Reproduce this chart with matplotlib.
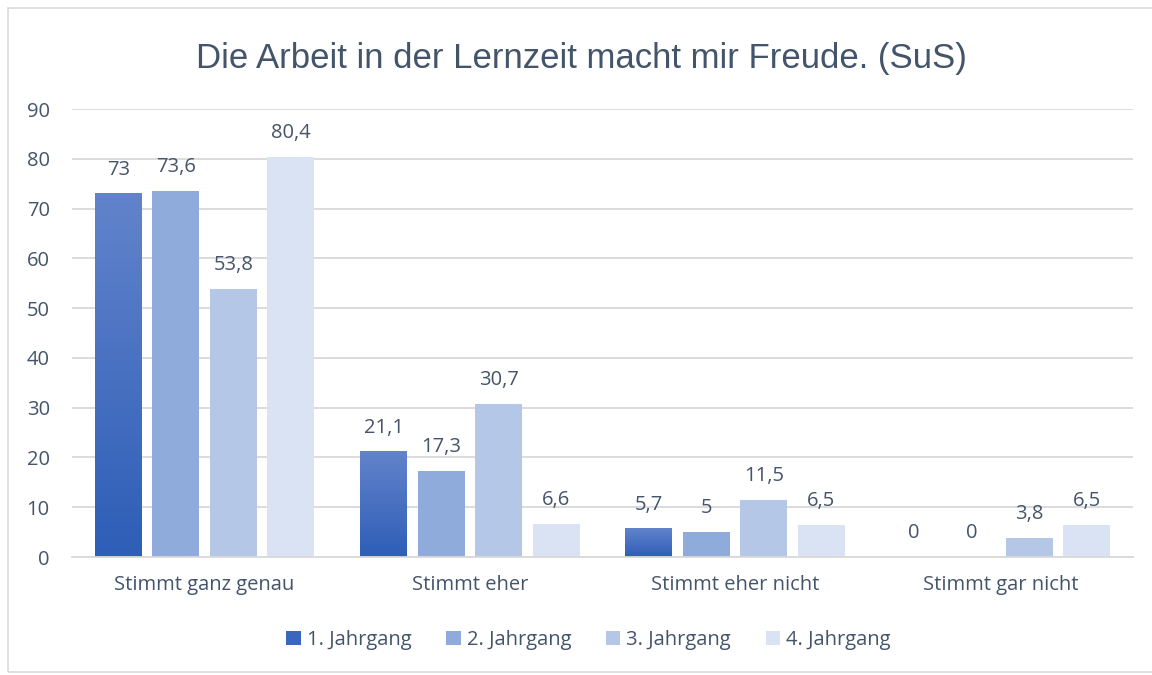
import numpy as np
import matplotlib.pyplot as plt
from matplotlib.colors import LinearSegmentedColormap
from matplotlib.patches import Rectangle, Patch

# Survey answers (percent) per school year
categories = ["Stimmt ganz genau", "Stimmt eher", "Stimmt eher nicht", "Stimmt gar nicht"]
series_names = ["1. Jahrgang", "2. Jahrgang", "3. Jahrgang", "4. Jahrgang"]
jahrgang1 = [73, 21.1, 5.7, 0]
jahrgang2 = [73.6, 17.3, 5, 0]
jahrgang3 = [53.8, 30.7, 11.5, 3.8]
jahrgang4 = [80.4, 6.6, 6.5, 6.5]
values = [jahrgang1, jahrgang2, jahrgang3, jahrgang4]

colors = ["#3A66BE", "#8FABDC", "#B4C7E7", "#DAE3F3"]
text_color = "#44546A"
font = "Open Sans"

fig = plt.figure(figsize=(11.52, 6.75), dpi=100)
fig.patches.append(Rectangle((8 / 1152, 0.004), 1.0, 1 - 8 / 675 - 0.004,
                             transform=fig.transFigure, fill=False,
                             edgecolor="#D9D9D9", linewidth=1.2))
ax = fig.add_axes([0.0625, 0.1748, 0.921, 0.6637])

x = np.arange(len(categories))
width = 0.177
step = 0.217
grad = LinearSegmentedColormap.from_list("g", ["#2E5EB7", "#6283CB"])

for i, vals in enumerate(values):
    pos = x + (i - 1.5) * step
    bars = ax.bar(pos, vals, width, color=colors[i], zorder=2)
    if i == 0:
        # first series has a vertical gradient fill
        for b in bars:
            h = b.get_height()
            if h > 0:
                b.set_facecolor("none")
                ax.imshow(np.linspace(0, 1, 100).reshape(-1, 1), cmap=grad,
                          origin="lower", aspect="auto", zorder=2,
                          extent=[b.get_x(), b.get_x() + b.get_width(), 0, h])
    for p, v in zip(pos, vals):
        lbl = f"{v:g}".replace(".", ",")
        ax.annotate(lbl, (p, v), xytext=(0, 13.5), textcoords="offset points",
                    ha="center", va="baseline", fontsize=14.5, color=text_color,
                    family=font)

ax.set_xlim(-0.5, 3.5)
ax.set_ylim(0, 90)
ax.set_yticks(range(0, 91, 10))
ax.set_xticks(x)
ax.set_xticklabels(categories)
ax.grid(axis="y", color="#D9D9D9", linewidth=1.3, zorder=0)
ax.set_axisbelow(True)
for s in ["top", "right", "left"]:
    ax.spines[s].set_visible(False)
ax.spines["bottom"].set_color("#D9D9D9")
ax.spines["bottom"].set_linewidth(1.3)
ax.tick_params(length=0, labelsize=14.5, labelcolor=text_color, pad=13)
ax.tick_params(axis="y", pad=16)
for t in ax.get_xticklabels() + ax.get_yticklabels():
    t.set_family(font)

fig.text(0.505, 0.914, "Die Arbeit in der Lernzeit macht mir Freude. (SuS)",
         ha="center", va="center", fontsize=25, color=text_color,
         family="Liberation Sans")

handles = [Patch(facecolor=c) for c in colors]
leg = fig.legend(handles, series_names, loc="center", bbox_to_anchor=(0.511, 0.052),
                 ncol=4, frameon=False, prop={"family": font, "size": 14.5},
                 handlelength=0.7, handleheight=0.7, handletextpad=0.3,
                 columnspacing=1.75, labelcolor=text_color)

fig.savefig("out.png", dpi=100)
